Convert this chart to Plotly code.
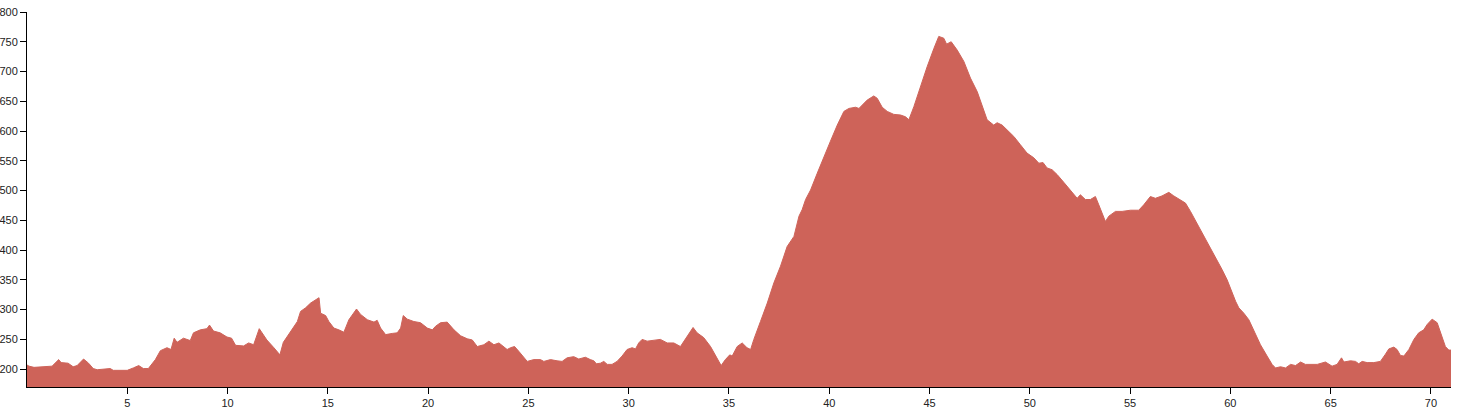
import plotly.graph_objects as go

# distance along route (km)
distance_km = [
    0.0, 0.1, 0.35, 1.15, 1.25, 1.58, 1.7, 2.05, 2.3, 2.5, 2.82, 3.07, 3.3, 3.5, 4.15, 4.3, 5.0, 5.3, 5.57, 5.8,
    6.05, 6.4, 6.65, 6.98, 7.18, 7.34, 7.48, 7.8, 8.14, 8.3, 8.64, 8.97, 9.1, 9.3, 9.63, 9.97, 10.2, 10.4, 10.8, 11.05,
    11.3, 11.58, 11.96, 12.31, 12.61, 12.78, 12.98, 13.23, 13.48, 13.64, 13.89, 14.14, 14.39, 14.56, 14.64, 14.89,
    15.05, 15.3, 15.55, 15.8, 16.05, 16.3, 16.43, 16.63, 16.97, 17.3, 17.46, 17.63, 17.88, 18.21, 18.46, 18.63, 18.76,
    18.96, 19.29, 19.62, 19.96, 20.21, 20.37, 20.62, 20.95, 21.29, 21.62, 21.95, 22.2, 22.45, 22.78, 23.03, 23.28,
    23.53, 23.78, 23.94, 24.11, 24.31, 24.52, 24.77, 24.94, 25.27, 25.6, 25.77, 26.1, 26.43, 26.68, 26.93, 27.26,
    27.51, 27.84, 28.09, 28.26, 28.39, 28.59, 28.76, 28.93, 29.17, 29.42, 29.67, 29.92, 30.17, 30.34, 30.5, 30.67,
    30.92, 31.25, 31.58, 31.92, 32.25, 32.58, 32.91, 33.21, 33.41, 33.74, 34.08, 34.33, 34.61, 34.82, 35.04, 35.16,
    35.41, 35.66, 35.9, 36.08, 36.24, 36.57, 36.91, 37.24, 37.57, 37.9, 38.24, 38.49, 38.65, 38.82, 39.07, 39.4,
    39.73, 40.06, 40.4, 40.73, 40.98, 41.31, 41.48, 41.64, 41.89, 42.22, 42.39, 42.64, 42.89, 43.22, 43.55, 43.8,
    43.97, 44.22, 44.55, 44.88, 45.22, 45.46, 45.71, 45.85, 46.08, 46.38, 46.71, 47.04, 47.38, 47.71, 47.87, 48.2,
    48.37, 48.62, 48.87, 49.2, 49.53, 49.86, 50.2, 50.45, 50.66, 50.86, 51.11, 51.36, 51.69, 52.02, 52.36, 52.52,
    52.77, 53.02, 53.27, 53.44, 53.6, 53.77, 53.94, 54.27, 54.6, 55.02, 55.43, 55.68, 56.01, 56.26, 56.59, 56.93,
    57.18, 57.51, 57.76, 58.01, 58.34, 58.67, 59.0, 59.34, 59.59, 59.84, 60.09, 60.26, 60.42, 60.67, 60.92, 61.17,
    61.5, 61.83, 62.08, 62.25, 62.5, 62.75, 63.0, 63.25, 63.5, 63.74, 63.99, 64.33, 64.74, 65.07, 65.32, 65.54,
    65.66, 65.99, 66.24, 66.4, 66.57, 66.82, 67.15, 67.48, 67.73, 67.9, 68.15, 68.31, 68.48, 68.65, 68.9, 69.15,
    69.39, 69.64, 69.81, 70.06, 70.31, 70.56, 70.72, 70.89, 71.0,
]

# elevation (m)
elevation_m = [
    207, 205, 203, 204, 205, 216, 211, 210, 204, 206, 217, 210, 201, 199, 201, 198, 198, 202, 206, 201,
    201, 216, 231, 236, 233, 252, 245, 252, 248, 261, 266, 268, 274, 264, 261, 254, 252, 240, 239, 244,
    241, 268, 249, 236, 224, 245, 255, 266, 280, 297, 303, 311, 317, 320, 294, 290,
    280, 269, 266, 262, 283, 294, 301, 292, 283, 279, 282, 269, 258, 260, 261, 269, 290,
    284, 280, 278, 269, 266, 272, 278, 279, 266, 256, 251, 249, 238, 241, 247, 241,
    244, 238, 233, 236, 238, 230, 219, 213, 216, 216, 213, 216, 214, 213, 219, 221,
    217, 220, 216, 214, 209, 210, 213, 208, 208, 213, 222, 233, 236, 234, 244, 250,
    247, 248, 250, 244, 244, 238, 255, 270, 261, 253, 238, 222, 206, 216, 224, 222,
    238, 244, 236, 233, 250, 280, 311, 345, 373, 406, 423, 457, 468, 485, 501, 529,
    557, 583, 610, 633, 638, 640, 638, 644, 652, 659, 655, 640, 633, 628, 627, 624,
    619, 641, 675, 708, 739, 759, 756, 746, 750, 736, 717, 689, 666, 636, 619, 610,
    614, 610, 602, 591, 577, 563, 555, 546, 547, 538, 535, 527, 514, 501, 487, 493,
    485, 485, 490, 476, 462, 448, 457, 465, 465, 467, 467, 476, 490, 487, 491, 497,
    491, 484, 479, 465, 445, 423, 404, 384, 367, 350, 328, 314, 303, 294, 283, 264,
    241, 222, 208, 202, 204, 202, 208, 206, 212, 208, 208, 208, 212, 205, 208, 219,
    212, 214, 213, 209, 213, 211, 211, 213, 225, 234, 237, 233, 223, 222, 233, 250,
    261, 266, 275, 284, 278, 255, 238, 232, 232,
]

x_ticks = [5, 10, 15, 20, 25, 30, 35, 40, 45, 50, 55, 60, 65, 70]
y_ticks = [200, 250, 300, 350, 400, 450, 500, 550, 600, 650, 700, 750, 800]

fill_color = "#ce6359"

fig = go.Figure()
fig.add_trace(go.Scatter(
    x=distance_km,
    y=elevation_m,
    mode="lines",
    line=dict(color=fill_color, width=1),
    fill="tozeroy",
    fillcolor=fill_color,
    hoverinfo="x+y",
    showlegend=False,
))

axis_font = dict(family="Liberation Sans, Arial, sans-serif", size=11, color="#222")

common_axis = dict(
    showgrid=False,
    zeroline=False,
    showline=True,
    linecolor="black",
    linewidth=1,
    ticks="outside",
    ticklen=6,
    tickcolor="black",
    tickfont=axis_font,
    automargin=False,
)

fig.update_layout(
    width=1459,
    height=414,
    margin=dict(l=27, r=8, t=12, b=27),
    paper_bgcolor="white",
    plot_bgcolor="white",
    xaxis=dict(
        range=[0, 71],
        tickvals=x_ticks,
        ticktext=[str(v) for v in x_ticks],
        **common_axis,
    ),
    yaxis=dict(
        range=[170, 800],
        tickvals=y_ticks,
        ticktext=[str(v) for v in y_ticks],
        **common_axis,
    ),
)

fig.write_html(
    "out.html",
    config={"displayModeBar": False},
    post_script="document.body.style.margin='0';document.body.style.overflow='hidden';",
)
